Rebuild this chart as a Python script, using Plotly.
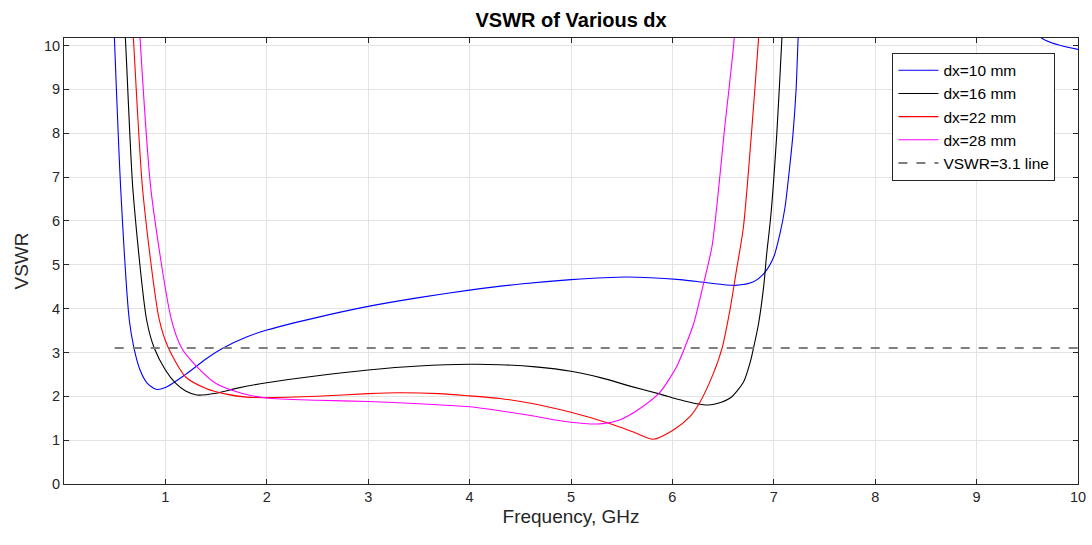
import plotly.graph_objects as go

# dx = 10 mm
f10 = [0.49, 0.56, 0.644, 0.69, 0.75, 0.82, 0.907, 1.0, 1.2, 1.4, 1.57, 1.8, 2.0, 2.5, 3.0, 3.5, 4.0, 4.5,
       5.0, 5.55, 6.075, 6.34, 6.62, 6.80, 6.91, 7.0, 7.06, 7.11, 7.16, 7.19, 7.22, 7.24, 7.3, 8.0, 9.0, 9.64, 10.0]
v10 = [10.6, 6.7, 3.74, 3.1, 2.6, 2.3, 2.16, 2.2, 2.5, 2.85, 3.1, 3.35, 3.51, 3.8, 4.05, 4.25, 4.42, 4.56,
       4.66, 4.72, 4.66, 4.59, 4.53, 4.61, 4.82, 5.18, 5.7, 6.3, 7.3, 8.0, 9.0, 10.17, 13.0, 16.0, 12.0, 10.17, 9.91]

# dx = 16 mm
f16 = [0.59, 0.605, 0.68, 0.815, 0.89, 1.0, 1.1, 1.2, 1.31, 1.5, 1.7, 2.0, 2.5, 3.0, 3.5, 4.0, 4.3, 4.65,
       5.0, 5.3, 5.6, 5.88, 6.075, 6.24, 6.354, 6.45, 6.57, 6.70, 6.77, 6.80, 6.85, 6.90, 6.93, 6.97,
       7.03, 7.08, 7.12]
v16 = [10.6, 10.17, 6.7, 3.74, 3.1, 2.6, 2.3, 2.12, 2.03, 2.07, 2.18, 2.31, 2.47, 2.6, 2.69, 2.73, 2.72, 2.67,
       2.57, 2.42, 2.22, 2.05, 1.92, 1.83, 1.80, 1.84, 1.96, 2.32, 2.8, 3.1, 3.66, 4.5, 5.25, 6.1,
       8.0, 10.17, 12.0]

# dx = 22 mm
f22 = [0.67, 0.684, 0.776, 0.94, 1.03, 1.2, 1.4, 1.6, 1.8, 2.0, 2.5, 3.0, 3.3, 3.7, 4.0, 4.3, 4.63,
       4.99, 5.38, 5.61, 5.81, 6.01, 6.17, 6.27, 6.40, 6.49, 6.57, 6.63, 6.70, 6.78, 6.85, 6.9]
v22 = [10.6, 10.17, 6.7, 3.74, 3.1, 2.44, 2.18, 2.05, 1.98, 1.97, 2.0, 2.06, 2.08, 2.06, 2.01, 1.95, 1.83,
       1.64, 1.38, 1.19, 1.02, 1.23, 1.53, 1.86, 2.5, 3.1, 4.0, 4.85, 5.85, 8.0, 10.17, 12.0]

# dx = 28 mm
f28 = [0.74, 0.75, 0.858, 1.06, 1.16, 1.3, 1.5, 1.75, 2.0, 2.5, 3.0, 3.5, 4.0, 4.3, 4.63, 4.96, 5.29,
       5.48, 5.68, 5.88, 6.04, 6.12, 6.21, 6.30, 6.39, 6.45, 6.51, 6.61, 6.65]
v28 = [10.6, 10.17, 6.7, 3.74, 3.1, 2.7, 2.29, 2.07, 1.96, 1.91, 1.88, 1.83, 1.76, 1.67, 1.55, 1.42, 1.37,
       1.46, 1.72, 2.10, 2.67, 3.1, 3.66, 4.5, 5.41, 6.6, 8.0, 10.17, 12.0]

# reference line
f_ref = [0.5, 10.0]
v_ref = [3.1, 3.1]

series = [
    ("dx=10 mm", f10, v10, "#0000FF"),
    ("dx=16 mm", f16, v16, "#000000"),
    ("dx=22 mm", f22, v22, "#FF0000"),
    ("dx=28 mm", f28, v28, "#FF00FF"),
]

fig = go.Figure()
for name, f, v, c in series:
    fig.add_trace(go.Scatter(x=f, y=v, mode="lines", name=name,
                             line=dict(color=c, width=1.1, shape="spline", smoothing=0.7)))
fig.add_trace(go.Scatter(x=f_ref, y=v_ref, mode="lines", name="VSWR=3.1 line",
                         line=dict(color="#7F7F7F", width=2, dash="dash")))

axis_common = dict(showline=True, linecolor="#262626", linewidth=1, mirror="allticks",
                   ticks="inside", ticklen=5, tickcolor="#262626",
                   showgrid=True, gridcolor="#E3E3E3", gridwidth=1, zeroline=False,
                   automargin=False,
                   tickfont=dict(size=14.5, color="#262626"))

fig.update_xaxes(range=[0, 10], tickvals=list(range(1, 11)),
                 title=dict(text="Frequency, GHz", font=dict(size=19, color="#262626"), standoff=5),
                 **axis_common)
fig.update_yaxes(range=[0, 10.17], tickvals=list(range(0, 11)),
                 title=dict(text="VSWR", font=dict(size=19, color="#262626"), standoff=10),
                 **axis_common)

fig.update_layout(
    width=1092, height=545,
    margin=dict(l=64, r=14, t=37.5, b=61, autoexpand=False),
    paper_bgcolor="white", plot_bgcolor="white",
    font=dict(family="Liberation Sans, Arial, sans-serif", color="#262626"),
    title=dict(text="<b>VSWR of Various dx</b>", x=0.523, xanchor="center", y=0.964, yanchor="middle",
               font=dict(size=20, color="#000000"), automargin=False),
    legend=dict(x=0.817, y=0.967, xanchor="left", yanchor="top",
                bgcolor="white", bordercolor="#262626", borderwidth=1,
                font=dict(size=15.5, color="#000000"), tracegroupgap=0, itemwidth=40),
    showlegend=True,
)

fig.write_html("out.html", config={"displayModeBar": False},
               post_script="document.body.style.margin='0px';document.body.style.overflow='hidden';")
